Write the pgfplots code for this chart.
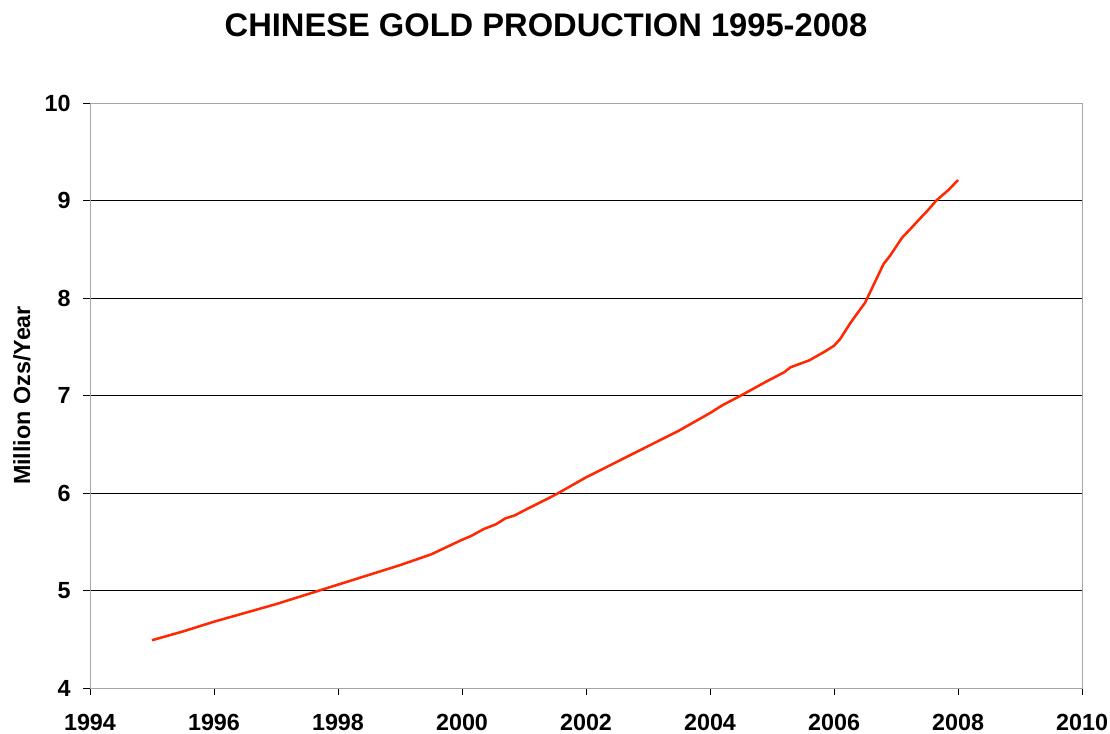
\documentclass[border=0pt]{standalone}
\usepackage{pgfplots}
\pgfplotsset{compat=1.18}
\usepackage{fontspec}
\setmainfont{Liberation Sans}
\definecolor{goldline}{RGB}{255,40,0}
\begin{document}
\begin{tikzpicture}
% 1px of the reference = 0.75pt
\useasboundingbox (-67.5pt,-34.5pt) rectangle (765pt,516pt);
\begin{axis}[
  at={(0,0)}, anchor=south west,
  scale only axis, width=744pt, height=438.75pt,
  xmin=1994, xmax=2010, ymin=4, ymax=10,
  xtick={1994,1996,...,2010}, ytick={4,5,...,10},
  /pgf/number format/1000 sep=,
  /pgf/number format/assume math mode=true,
  tick label style={font=\bfseries\fontsize{17.5}{20}\selectfont},
  xticklabel style={yshift=-11pt},
  yticklabel style={xshift=-6pt},
  tick align=outside, major tick length=5pt,
  tick style={black, line width=0.6pt},
  xtick pos=lower, ytick pos=left,
  ymajorgrids, grid style={black, line width=0.6pt},
  axis line style={draw=gray!70, line width=0.6pt},
  clip=false,
]
\addplot[color=goldline, line width=1.9pt] coordinates {
  (1995.0,4.49)(1995.5,4.58)(1996.0,4.68)(1996.5,4.77)(1997.0,4.86)
  (1997.5,4.96)(1998.0,5.06)(1998.5,5.16)(1999.0,5.26)(1999.5,5.37)
  (2000.0,5.52)(2000.15,5.56)(2000.35,5.63)(2000.55,5.68)(2000.7,5.74)
  (2000.85,5.77)(2001.0,5.82)(2001.5,5.98)(2002.0,6.16)(2002.5,6.32)
  (2003.0,6.48)(2003.5,6.64)(2004.0,6.82)(2004.2,6.90)(2004.5,7.00)
  (2004.9,7.14)(2005.2,7.24)(2005.3,7.29)(2005.6,7.36)(2005.85,7.45)
  (2006.0,7.51)(2006.1,7.58)(2006.25,7.73)(2006.35,7.82)(2006.5,7.95)
  (2006.65,8.15)(2006.8,8.35)(2006.9,8.43)(2007.1,8.62)(2007.25,8.72)
  (2007.35,8.79)(2007.5,8.89)(2007.65,9.00)(2007.85,9.11)(2008.0,9.21)
};
\end{axis}
\node[anchor=base, font=\bfseries\fontsize{24.5}{28}\selectfont] at (342pt,488.25pt) {CHINESE GOLD PRODUCTION 1995-2008};
\node[rotate=90, font=\bfseries\fontsize{17.5}{20}\selectfont] at (-51pt,219.4pt) {Million Ozs/Year};
\end{tikzpicture}
\end{document}
